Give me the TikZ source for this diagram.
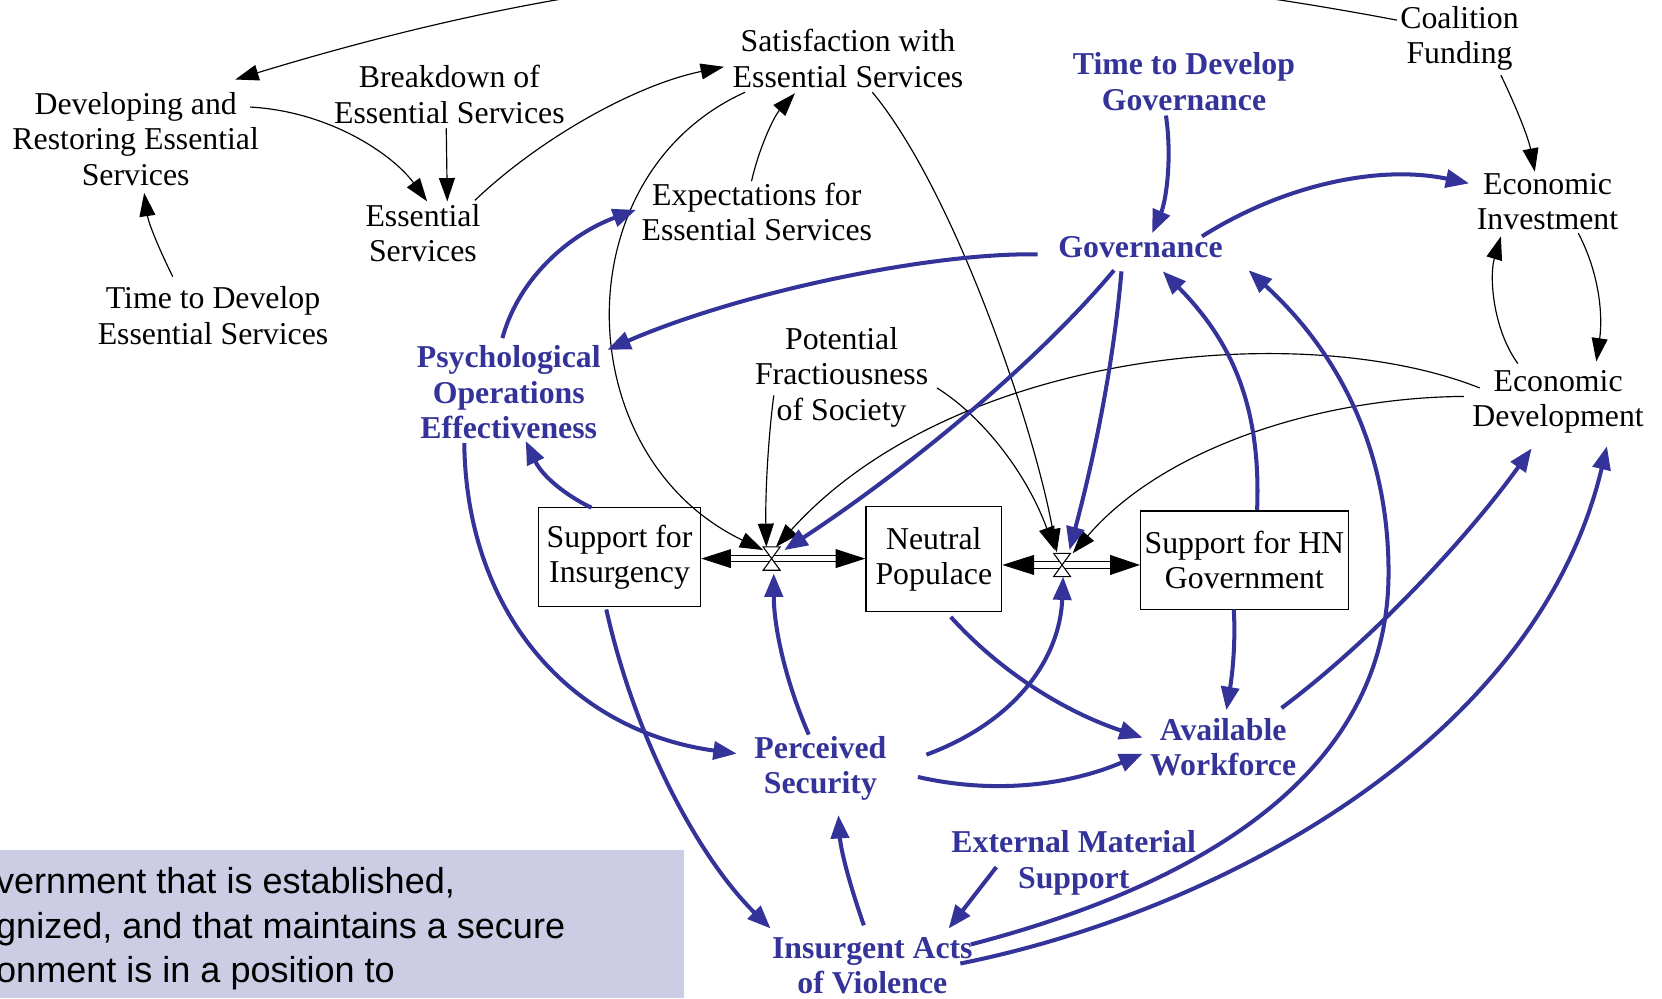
\documentclass[tikz,border=0pt]{standalone}
\usepackage{fontspec}
\setmainfont{Liberation Serif}
\newfontfamily\boxsans{Liberation Sans}
\usetikzlibrary{arrows.meta,calc}
\definecolor{myblue}{RGB}{51,51,153}
\definecolor{boxfill}{RGB}{204,204,228}
\begin{document}
\begin{tikzpicture}[x=0.5pt,y=-0.5pt,
  lbl/.style={align=center,inner sep=0pt,font=\fontsize{15}{16.75}\selectfont},
  blbl/.style={align=center,inner sep=0pt,font=\fontsize{15}{16.75}\selectfont\bfseries,text=myblue},
  stock/.style={draw,line width=0.6pt,align=center,inner sep=0pt,font=\fontsize{15}{16.75}\selectfont},
  blk/.style={draw=black,line width=0.55pt,-{Triangle[length=11pt,width=7.5pt]}},
  blu/.style={draw=myblue,line width=1.9pt,-{Triangle[length=11pt,width=8.5pt]}},
  pipe/.style={line width=0.6pt},
  valve/.style={draw,fill=white,line width=0.5pt},
  note/.style={anchor=base west,inner sep=0pt,font=\boxsans\fontsize{17}{21}\selectfont}
]
\useasboundingbox (0,0) rectangle (1568,942);
\clip (0,0) rectangle (1568,942);
% note box
\fill[boxfill] (0,802) rectangle (645,942);
\node[note] (n1) at (-4,843) {vernment that is established,};
\node[note] (n2) at (-4,885) {gnized, and that maintains a secure};
\node[note] (n3) at (-4,927) {onment is in a position to};
% nodes
\node[lbl] (dev) at (128,131) {Developing and\\Restoring Essential\\Services};
\node[lbl] (brk) at (424,89) {Breakdown of\\Essential Services};
\node[lbl] (sat) at (800,55) {Satisfaction with\\Essential Services};
\node[blbl] (tdg) at (1117,77) {Time to Develop\\Governance};
\node[lbl] (coal) at (1377,36) {Coalition\\Funding};
\node[lbl] (ess) at (399,220) {Essential\\Services};
\node[lbl] (exp) at (714,200) {Expectations for\\Essential Services};
\node[lbl] (einv) at (1460,190) {Economic\\Investment};
\node[blbl] (gov) at (1076,233) {Governance};
\node[lbl] (tdes) at (201,298) {Time to Develop\\Essential Services};
\node[blbl] (psy) at (480,370) {Psychological\\Operations\\Effectiveness};
\node[lbl] (pot) at (794,356) {Potential\\Fractiousness\\of Society};
\node[lbl] (edev) at (1470,379) {Economic\\Development};
\node[stock,minimum width=76.5pt,minimum height=46.5pt] (sfi) at (584.5,525.5) {Support for\\Insurgency};
\node[stock,minimum width=64pt,minimum height=49.5pt] (neu) at (881,527.5) {Neutral\\Populace};
\node[stock,minimum width=98pt,minimum height=46.5pt] (shn) at (1174,528.5) {Support for HN\\Government};
\coordinate (v1) at (728,527);
\coordinate (v2) at (1002,533);
\node[blbl] (ps) at (774,725) {Perceived\\Security};
\node[blbl] (aw) at (1154,705) {Available\\Workforce};
\node[blbl] (ems) at (1013,814) {External Material\\Support};
\node[blbl] (iav) at (823,911) {Insurgent Acts\\of Violence};
% pipes
\draw[pipe] ($(sfi.east |- v1)+(28,-3)$) -- ($(neu.west |- v1)+(-28,-3)$);
\draw[pipe] ($(sfi.east |- v1)+(28,3)$) -- ($(neu.west |- v1)+(-28,3)$);
\fill (sfi.east |- v1) -- ++(28,-9) -- ++(0,18) -- cycle;
\fill (neu.west |- v1) -- ++(-28,-9) -- ++(0,18) -- cycle;
\draw[valve] ($(v1)+(-8,-11)$) -- ($(v1)+(8,-11)$) -- (v1) -- cycle;
\draw[valve] ($(v1)+(-8,11)$) -- ($(v1)+(8,11)$) -- (v1) -- cycle;
\draw[pipe] ($(neu.east |- v2)+(30,-3)$) -- ($(shn.west |- v2)+(-28,-3)$);
\draw[pipe] ($(neu.east |- v2)+(30,3)$) -- ($(shn.west |- v2)+(-28,3)$);
\fill (neu.east |- v2) -- ++(30,-9.5) -- ++(0,19) -- cycle;
\fill (shn.west |- v2) -- ++(-28,-9.5) -- ++(0,19) -- cycle;
\draw[valve] ($(v2)+(-8,-11)$) -- ($(v2)+(8,-11)$) -- (v2) -- cycle;
\draw[valve] ($(v2)+(-8,11)$) -- ($(v2)+(8,11)$) -- (v2) -- cycle;
% black connectors
\draw[blk] ($(coal)+(-59,-17)$) .. controls (900,-60) and (600,-40) .. ($(dev)+(94,-56)$);
\draw[blk] ($(dev)+(108,-30)$) .. controls (310,105) and (370,145) .. ($(ess)+(4,-30)$);
\draw[blk] ($(brk)+(-3,32)$) -- ($(ess)+(23,-30)$);
\draw[blk] ($(tdes)+(-38,-37)$) .. controls (150,235) and (140,210) .. ($(dev)+(8,51)$);
\draw[blk] ($(ess)+(49,-31)$) .. controls (510,130) and (600,80) .. ($(sat)+(-117,8)$);
\draw[blk] ($(exp)+(-5,-29)$) .. controls (716,140) and (730,110) .. ($(sat)+(-50,33)$);
\draw[blk] ($(sat)+(-97,32)$) .. controls (530,165) and (535,430) .. ($(v1)+(-8,-8)$);
\draw[blk] ($(sat)+(23,32)$) .. controls (900,180) and (975,400) .. ($(v2)+(-5,-12)$);
\draw[blk] ($(pot)+(-64,17)$) .. controls (724,420) and (722,470) .. ($(v1)+(-5,-11)$);
\draw[blk] ($(pot)+(90,10)$) .. controls (930,395) and (970,450) .. ($(v2)+(-7,-14)$);
\draw[blk] ($(edev)+(-74,-13)$) .. controls (1230,300) and (900,330) .. ($(v1)+(4,-11)$);
\draw[blk] ($(edev)+(-89,-5)$) .. controls (1250,375) and (1100,420) .. ($(v2)+(10,-11)$);
\draw[blk] ($(coal)+(39,35)$) .. controls (1430,100) and (1442,130) .. ($(einv)+(-12,-28)$);
\draw[blk] ($(einv)+(29,30)$) .. controls (1510,260) and (1512,300) .. ($(edev)+(36,-38)$);
\draw[blk] ($(edev)+(-38,-36)$) .. controls (1408,310) and (1405,260) .. ($(einv)+(-44,33)$);
% blue connectors
\draw[blu] ($(tdg)+(-17,32)$) .. controls (1106,150) and (1100,190) .. ($(gov)+(11,-13)$);
\draw[blu] ($(gov)+(58,-10)$) .. controls (1210,175) and (1300,155) .. ($(einv)+(-74,-17)$);
\draw[blu] ($(gov)+(-97,7)$) .. controls (880,238) and (700,275) .. ($(psy)+(93,-40)$);
\draw[blu] ($(psy)+(-6,-51)$) .. controls (490,260) and (540,220) .. ($(exp)+(-114,-2)$);
\draw[blu] ($(sfi)+(-26.5,-46.5)$) .. controls (535,468) and (512,450) .. ($(psy)+(16,46)$);
\draw[blu] ($(psy)+(-42,48)$) .. controls (440,580) and (540,690) .. ($(ps)+(-79,-14)$);
\draw[blu] ($(gov)+(-25,22)$) .. controls (980,340) and (860,440) .. ($(v1)+(12,-8)$);
\draw[blu] ($(gov)+(-18,23)$) .. controls (1050,350) and (1030,440) .. ($(v2)+(7,-14)$);
\draw[blu] ($(shn)+(12,-47.5)$) .. controls (1190,380) and (1160,320) .. ($(gov)+(21,23)$);
\draw[blu] ($(iav)+(93,-20)$) .. controls (1150,830) and (1310,720) .. (1310,540) .. controls (1310,420) and (1260,330) .. ($(gov)+(102,22)$);
\draw[blu] ($(iav)+(83,-2)$) .. controls (1150,860) and (1450,700) .. ($(edev)+(46,42)$);
\draw[blu] ($(aw)+(55,-37)$) .. controls (1300,600) and (1390,500) .. ($(edev)+(-25,44)$);
\draw[blu] ($(shn)+(-10,46.5)$) .. controls (1166,610) and (1162,640) .. ($(aw)+(3,-35)$);
\draw[blu] ($(neu)+(16,54.5)$) .. controls (940,630) and (1000,670) .. ($(aw)+(-76,-9)$);
\draw[blu] ($(ps)+(92,8)$) .. controls (940,750) and (1010,740) .. ($(aw)+(-76,6)$);
\draw[blu] ($(ps)+(100,-13)$) .. controls (960,680) and (1000,620) .. ($(v2)+(1,11)$);
\draw[blu] ($(ps)+(-11,-32)$) .. controls (740,640) and (730,590) .. ($(v1)+(2,14)$);
\draw[blu] ($(sfi)+(-12.5,49.5)$) .. controls (600,700) and (660,810) .. ($(iav)+(-96,-35)$);
\draw[blu] ($(iav)+(-8,-38)$) .. controls (800,830) and (793,800) .. ($(ps)+(17,44)$);
\draw[blu] ($(ems)+(-73,4)$) -- ($(iav)+(72,-35)$);
\end{tikzpicture}
\end{document}
